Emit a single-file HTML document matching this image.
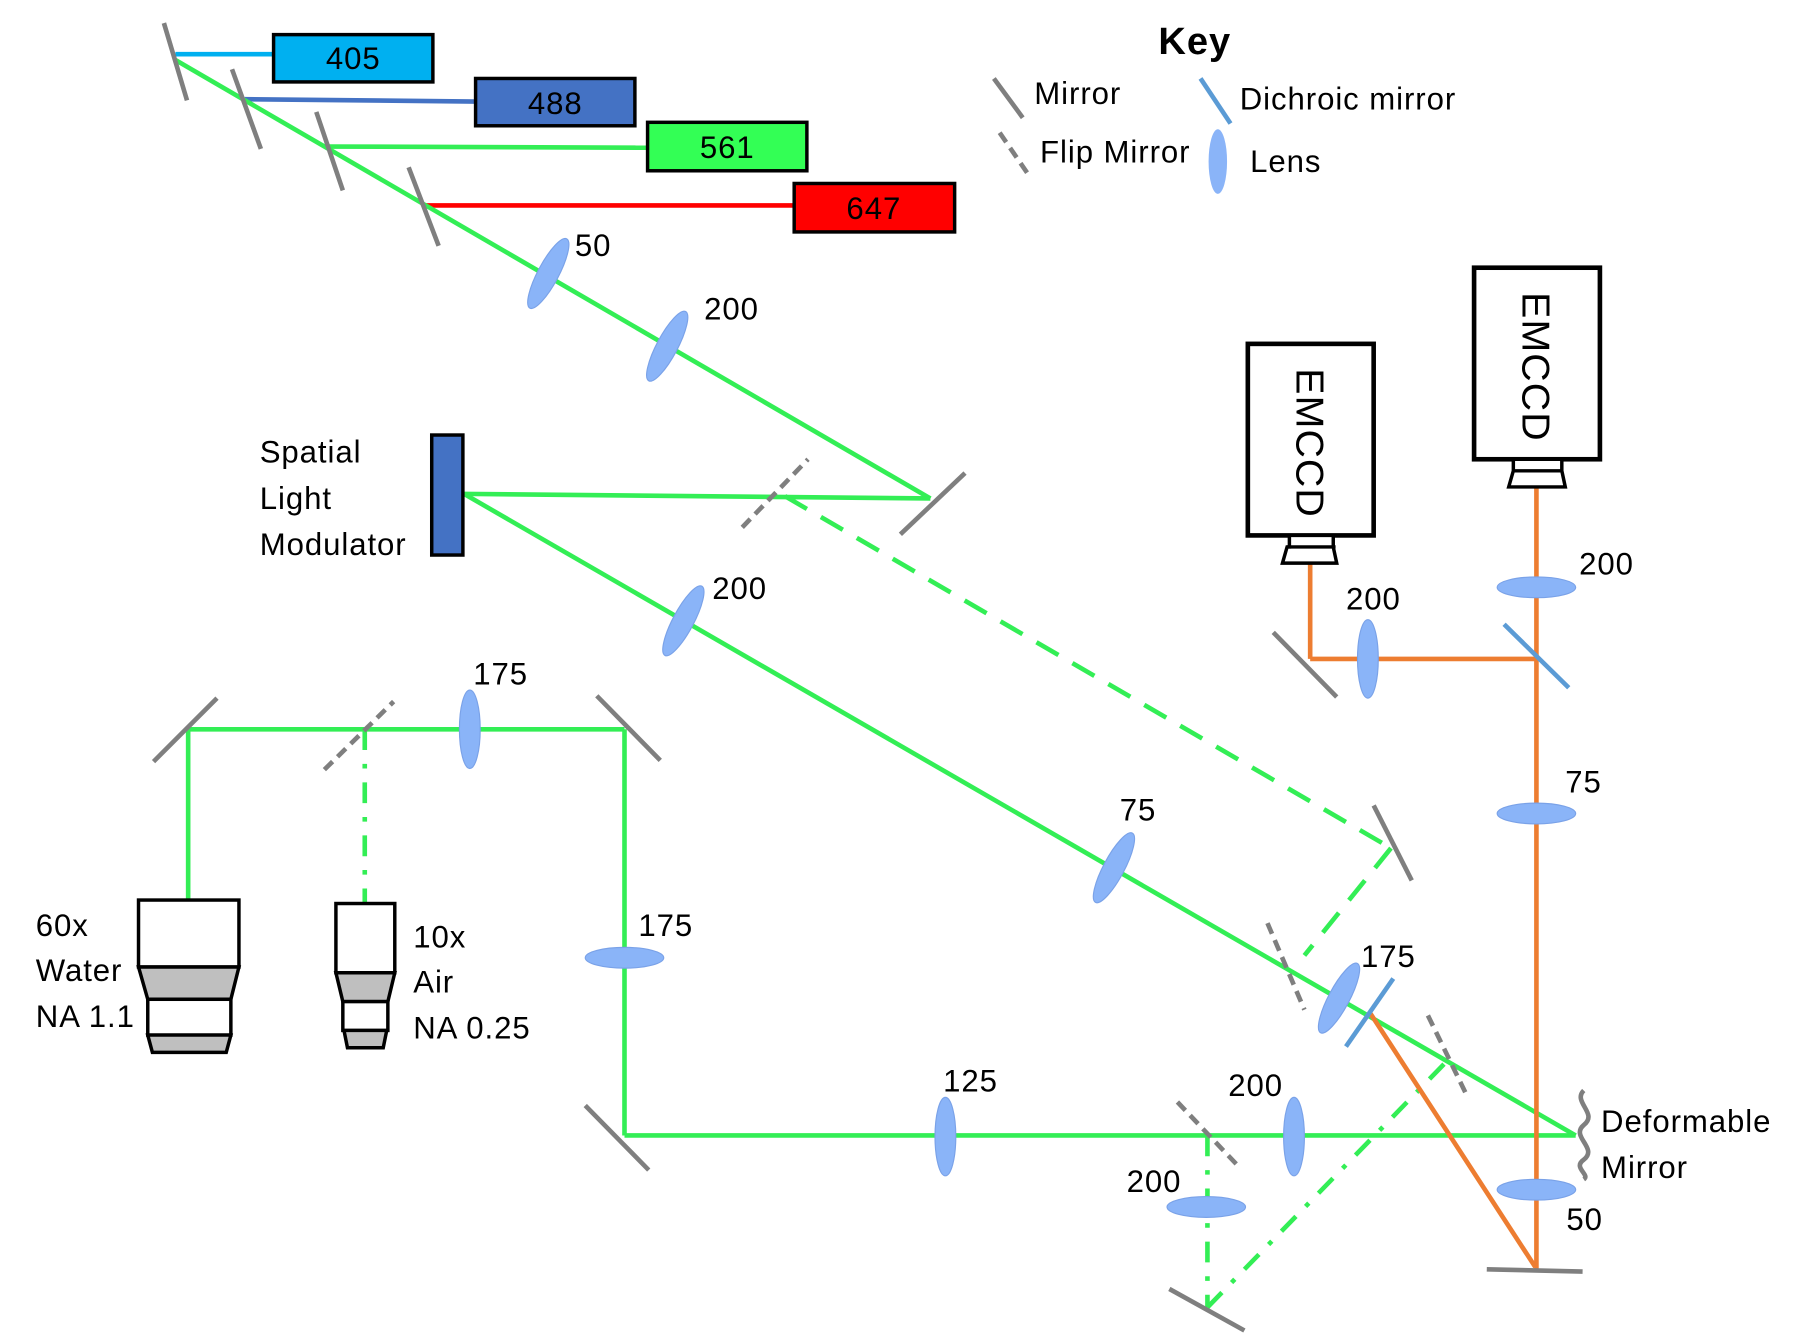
<!DOCTYPE html>
<html><head><style>html,body{margin:0;padding:0;background:#fff}svg{display:block}</style></head>
<body>
<svg width="1810" height="1342" viewBox="0 0 1568 1163" preserveAspectRatio="none" xmlns="http://www.w3.org/2000/svg" font-family="Liberation Sans, sans-serif" font-size="27" letter-spacing="0.8">
<defs>
<g id="lens"><ellipse cx="0" cy="0" rx="9" ry="34" fill="#8ab4f8" stroke="#7aa2e8" stroke-width="1"/></g>
</defs>
<line x1="152" y1="47" x2="237" y2="47" stroke="#00b0f0" stroke-width="4"/>
<line x1="212" y1="86" x2="412" y2="88" stroke="#4472c4" stroke-width="4"/>
<line x1="285" y1="127" x2="561" y2="128" stroke="#33ee55" stroke-width="4"/>
<line x1="368" y1="178" x2="688" y2="178" stroke="#ff0000" stroke-width="4"/>
<rect x="237" y="30" width="138" height="41" fill="#00b0f0" stroke="#000" stroke-width="3"/>
<rect x="412" y="68" width="138" height="41" fill="#4472c4" stroke="#000" stroke-width="3"/>
<rect x="561" y="106" width="138" height="42" fill="#33ff55" stroke="#000" stroke-width="3"/>
<rect x="688" y="159" width="139" height="42" fill="#ff0000" stroke="#000" stroke-width="3"/>
<g font-size="27" text-anchor="middle">
<text x="306" y="60">405</text><text x="481" y="99">488</text><text x="630" y="137">561</text><text x="757" y="190">647</text>
</g>
<g stroke="#33ee55" stroke-width="4" fill="none">
<line x1="152" y1="52" x2="806" y2="432"/>
<line x1="806" y1="432" x2="402" y2="428"/>
<line x1="402" y1="428" x2="1365" y2="984"/>
<line x1="541" y1="984" x2="1365" y2="984"/>
<line x1="541" y1="632" x2="541" y2="984"/>
<line x1="163" y1="632" x2="541" y2="632"/>
<line x1="163" y1="632" x2="163" y2="780"/>
<line x1="680" y1="430" x2="1205" y2="735" stroke-dasharray="22,14"/>
<line x1="1205" y1="735" x2="1130" y2="828" stroke-dasharray="22,14"/>
<line x1="316" y1="632" x2="316" y2="782" stroke-dasharray="18,12,4,12"/>
<line x1="1046" y1="984" x2="1046" y2="1133" stroke-dasharray="18,12,4,12"/>
<line x1="1046" y1="1133" x2="1255" y2="918" stroke-dasharray="18,12,4,12"/>
</g>
<g stroke="#ed7d31" stroke-width="4" fill="none">
<line x1="1187" y1="878" x2="1330" y2="1098"/>
<line x1="1331" y1="1100" x2="1331" y2="422"/>
<line x1="1135" y1="571" x2="1331" y2="571"/>
<line x1="1135" y1="489" x2="1135" y2="571"/>
</g>
<g stroke="#7f7f7f" stroke-width="4">
<line x1="142" y1="20" x2="162" y2="87"/>
<line x1="201" y1="60" x2="226" y2="129"/>
<line x1="274" y1="97" x2="297" y2="165"/>
<line x1="354" y1="145" x2="380" y2="213"/>
<line x1="780" y1="463" x2="836" y2="410"/>
<line x1="1190" y1="698" x2="1223" y2="763"/>
<line x1="507" y1="958" x2="562" y2="1014"/>
<line x1="517" y1="603" x2="572" y2="659"/>
<line x1="133" y1="660" x2="188" y2="605"/>
<line x1="1013" y1="1117" x2="1078" y2="1153"/>
<line x1="1288" y1="1100" x2="1371" y2="1102"/>
<line x1="1103" y1="548" x2="1158" y2="604"/>
<line x1="861" y1="68" x2="886" y2="102"/>
<g stroke-dasharray="10,6">
<line x1="643" y1="457" x2="700" y2="398"/>
<line x1="1098" y1="800" x2="1130" y2="875"/>
<line x1="1237" y1="880" x2="1272" y2="952"/>
<line x1="281" y1="667" x2="341" y2="608"/>
<line x1="1020" y1="955" x2="1075" y2="1013"/>
<line x1="866" y1="115" x2="890" y2="150"/>
</g>
</g>
<g stroke="#5b9bd5" stroke-width="4">
<line x1="1166" y1="907" x2="1207" y2="848"/>
<line x1="1303" y1="541" x2="1359" y2="596"/>
<line x1="1040" y1="68" x2="1066" y2="107"/>
</g>
<use href="#lens" transform="translate(475,237) rotate(28)"/>
<use href="#lens" transform="translate(578,300) rotate(28)"/>
<use href="#lens" transform="translate(592,538) rotate(28)"/>
<use href="#lens" transform="translate(965,752) rotate(28)"/>
<use href="#lens" transform="translate(1160,865) rotate(28)"/>
<use href="#lens" transform="translate(407,632)"/>
<use href="#lens" transform="translate(819,985)"/>
<use href="#lens" transform="translate(1121,985)"/>
<use href="#lens" transform="translate(1185,571)"/>
<use href="#lens" transform="translate(541,830) rotate(90)"/>
<use href="#lens" transform="translate(1045,1046) rotate(90)"/>
<use href="#lens" transform="translate(1331,1031) rotate(90)"/>
<use href="#lens" transform="translate(1331,705) rotate(90)"/>
<use href="#lens" transform="translate(1331,509) rotate(90)"/>
<ellipse cx="1055" cy="140" rx="8" ry="28" fill="#8ab4f8"/>
<rect x="374" y="377" width="27" height="104" fill="#4472c4" stroke="#000" stroke-width="3"/>
<path d="M1372,945 C1362,955 1385,965 1372,975 C1360,985 1385,995 1372,1005 C1362,1012 1378,1018 1372,1022" fill="none" stroke="#7f7f7f" stroke-width="4"/>
<g stroke="#000" stroke-width="3">
<rect x="120" y="780" width="87" height="58" fill="#fff"/>
<polygon points="120,838 207,838 200,866 128,866" fill="#bfbfbf"/>
<rect x="128" y="866" width="72" height="31" fill="#fff"/>
<polygon points="128,897 200,897 196,912 132,912" fill="#bfbfbf"/>
<rect x="291" y="783" width="51" height="60" fill="#fff"/>
<polygon points="291,843 342,843 336,868 297,868" fill="#bfbfbf"/>
<rect x="297" y="868" width="39" height="25" fill="#fff"/>
<polygon points="298,893 335,893 332,908 301,908" fill="#bfbfbf"/>
<rect x="1081" y="298" width="109" height="166" fill="#fff" stroke-width="4"/>
<rect x="1277" y="232" width="109" height="166" fill="#fff" stroke-width="4"/>
<polygon points="1117,464 1155,464 1155,474 1158,488 1111,488 1115,474 1117,474" fill="#fff"/>
<line x1="1115" y1="474" x2="1157" y2="474"/>
<polygon points="1311,398 1353,398 1353,408 1356,422 1307,422 1311,408" fill="#fff"/>
<line x1="1311" y1="408" x2="1353" y2="408"/>
</g>
<g font-size="34" text-anchor="middle" letter-spacing="1">
<text transform="translate(1123,384) rotate(90)">EMCCD</text>
<text transform="translate(1319,318) rotate(90)">EMCCD</text>
</g>
<text x="1035" y="47" font-size="33" font-weight="bold" text-anchor="middle">Key</text>
<text x="896" y="90">Mirror</text>
<text x="901" y="141">Flip Mirror</text>
<text x="1074" y="95">Dichroic mirror</text>
<text x="1083" y="149">Lens</text>
<text x="225" y="401">Spatial</text>
<text x="225" y="441">Light</text>
<text x="225" y="481">Modulator</text>
<text x="31" y="811">60x</text><text x="31" y="850">Water</text><text x="31" y="890">NA 1.1</text>
<text x="358" y="821">10x</text><text x="358" y="860">Air</text><text x="358" y="900">NA 0.25</text>
<text x="1387" y="981">Deformable</text><text x="1387" y="1021">Mirror</text>
<text x="498" y="222">50</text>
<text x="610" y="277">200</text>
<text x="617" y="519">200</text>
<text x="970" y="711">75</text>
<text x="1179" y="838">175</text>
<text x="410" y="593">175</text>
<text x="553" y="811">175</text>
<text x="817" y="946">125</text>
<text x="1064" y="950">200</text>
<text x="976" y="1033">200</text>
<text x="1357" y="1066">50</text>
<text x="1356" y="687">75</text>
<text x="1368" y="498">200</text>
<text x="1166" y="528">200</text>
</svg>
</body></html>
